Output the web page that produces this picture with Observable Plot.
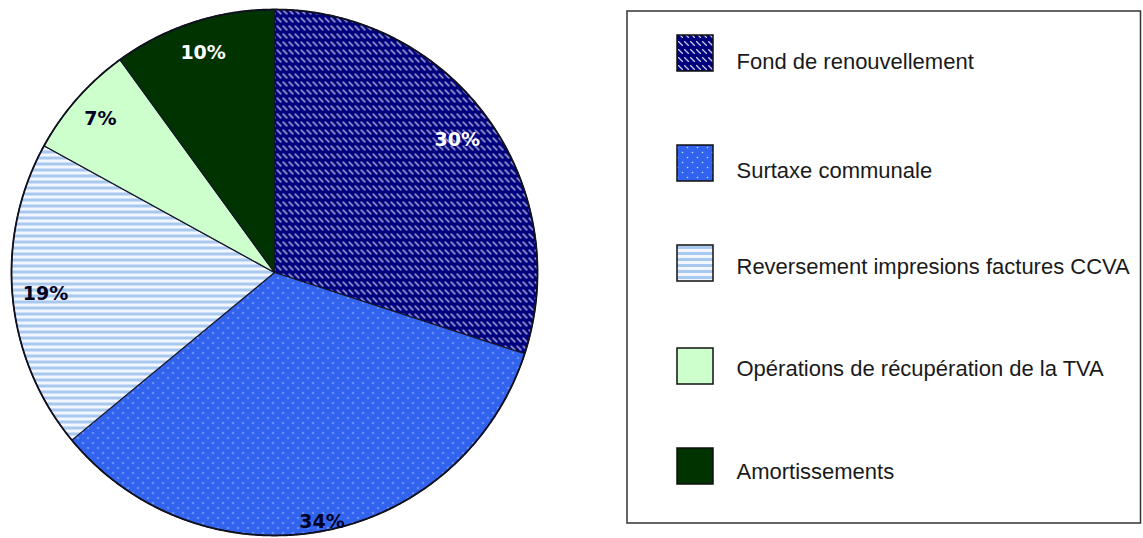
<!DOCTYPE html>
<html><head><meta charset="utf-8">
<script src="https://cdn.jsdelivr.net/npm/d3@7"></script>
<script src="https://cdn.jsdelivr.net/npm/@observablehq/plot@0.6"></script>
<style>html,body{margin:0;padding:0;background:#fff;overflow:hidden}</style>
</head><body><div id="chart"></div>
<script>
// ---- data ----
const categories = ["Fond de renouvellement", "Surtaxe communale", "Reversement impresions factures CCVA", "Opérations de récupération de la TVA", "Amortissements"];
const values = [30, 34, 19, 7, 10];
const valueLabels = ["30%", "34%", "19%", "7%", "10%"];

// ---- styles ----
const fills = ["url(#pFond)", "url(#pSurtaxe)", "url(#pRev)", "#ccffcc", "#003300"];
const labelColors = ["#ffffff", "#000022", "#000022", "#000022", "#ffffff"];
const labelRadius = [226, 254, 230, 232, 231];
const W = 1143, H = 538;
const cx = 274, cy = 272, R = 263;
const legendBox = {x1: 627, x2: 1140.5, y1: 11, y2: 523};
const swatchTop = [35, 145, 245, 348, 448];
const textY = [61, 170, 266, 368, 471];

// ---- pie geometry ----
const arcs = d3.pie().sort(null).value(d => d)(values);
const slicePts = [];
arcs.forEach((a, i) => {
  slicePts.push({i, x: cx, y: cy, fill: fills[i]});
  const n = Math.max(2, Math.ceil((a.endAngle - a.startAngle) / 0.005));
  for (let k = 0; k <= n; k++) {
    const t = a.startAngle + (a.endAngle - a.startAngle) * k / n;
    slicePts.push({i, x: cx + R * Math.sin(t), y: cy - R * Math.cos(t), fill: fills[i]});
  }
});
const rimPts = d3.range(0, 721).map(k => ({x: cx + R * Math.sin(k * Math.PI / 360), y: cy - R * Math.cos(k * Math.PI / 360)}));
const labelData = arcs.map((a, i) => {
  const m = (a.startAngle + a.endAngle) / 2;
  return {x: cx + labelRadius[i] * Math.sin(m), y: cy - labelRadius[i] * Math.cos(m), text: valueLabels[i], color: labelColors[i]};
});
const legendData = categories.map((c, i) => ({
  name: c, fill: fills[i], x1: 677, x2: 713, y1: swatchTop[i], y2: swatchTop[i] + 36, ty: textY[i]
}));

const svg = Plot.plot({
  width: W, height: H, margin: 0,
  x: {domain: [0, W], range: [0, W], axis: null},
  y: {domain: [0, H], range: [0, H], axis: null},
  color: {type: "identity"},
  style: {background: "#fff", overflow: "visible"},
  marks: [
    Plot.line(slicePts, {x: "x", y: "y", z: "i", fill: "fill", stroke: "#15152a", strokeWidth: 1.2, curve: "linear-closed", strokeLinejoin: "round"}),
    Plot.line(rimPts, {x: "x", y: "y", stroke: "#10101e", strokeWidth: 1.8}),
    Plot.text(labelData, {x: "x", y: "y", text: "text", fill: "color", fontFamily: "DejaVu Sans", fontWeight: "bold", fontSize: 19}),
    Plot.rect([legendBox], {x1: "x1", x2: "x2", y1: "y1", y2: "y2", fill: "none", stroke: "#333", strokeWidth: 1.5}),
    Plot.rect(legendData, {x1: "x1", x2: "x2", y1: "y1", y2: "y2", fill: "fill", stroke: "#111", strokeWidth: 1.5}),
    Plot.text(legendData, {x: 736, y: "ty", text: "name", textAnchor: "start", fill: "#1a1a1a", fontFamily: "Liberation Sans", fontSize: 22})
  ]
});

const defs = d3.select(svg).insert("defs", ":first-child");
const p1 = defs.append("pattern").attr("id", "pFond").attr("patternUnits", "userSpaceOnUse").attr("width", 6).attr("height", 8);
p1.append("rect").attr("width", 6).attr("height", 8).attr("fill", "#00007e");
p1.append("path").attr("d", "M0.5,1.5L4.5,5.5").attr("stroke", "#d4d4f2").attr("stroke-width", 1.1).attr("stroke-linecap", "round");
const p2 = defs.append("pattern").attr("id", "pSurtaxe").attr("patternUnits", "userSpaceOnUse").attr("width", 10).attr("height", 10);
p2.append("rect").attr("width", 10).attr("height", 10).attr("fill", "#3163ee");
p2.append("circle").attr("cx", 2.5).attr("cy", 2.5).attr("r", 0.8).attr("fill", "#c8dcff");
p2.append("circle").attr("cx", 7.5).attr("cy", 7.5).attr("r", 0.8).attr("fill", "#c8dcff");
const p3 = defs.append("pattern").attr("id", "pRev").attr("patternUnits", "userSpaceOnUse").attr("width", 6).attr("height", 6);
p3.append("rect").attr("width", 6).attr("height", 6).attr("fill", "#f2f7ff");
p3.append("rect").attr("width", 6).attr("height", 3).attr("fill", "#a9c8ee");

document.getElementById("chart").append(svg);
</script>
</body></html>
